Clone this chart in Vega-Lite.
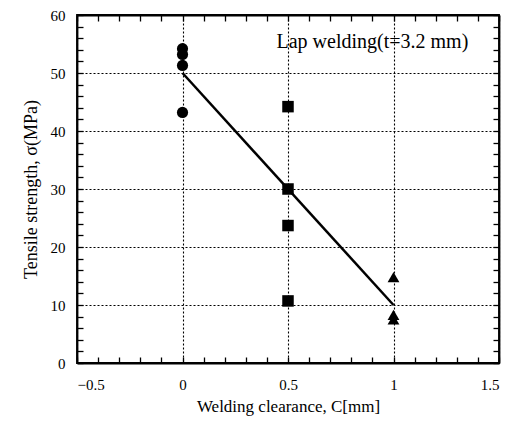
{
  "$schema": "https://vega.github.io/schema/vega-lite/v6.json",
  "width": 422,
  "height": 348,
  "autosize": "none",
  "padding": {"left": 77, "top": 15, "right": 15, "bottom": 58},
  "background": "white",
  "config": {
    "view": {"stroke": "black", "strokeWidth": 1.8},
    "font": "Liberation Serif",
    "axis": {"labelFont": "Liberation Serif", "titleFont": "Liberation Serif", "labelColor": "black", "titleColor": "black", "titleFontWeight": "normal", "labelFontSize": 15, "titleFontSize": 17, "domainColor": "black", "tickColor": "black", "domainWidth": 1.8, "tickWidth": 1.3}
  },
  "datasets": {
    "pts": [
      {"c": 0, "s": 54.2, "g": "c"},
      {"c": 0, "s": 53.2, "g": "c"},
      {"c": 0, "s": 51.3, "g": "c"},
      {"c": 0, "s": 43.2, "g": "c"},
      {"c": 0.5, "s": 44.2, "g": "s"},
      {"c": 0.5, "s": 30.0, "g": "s"},
      {"c": 0.5, "s": 23.7, "g": "s"},
      {"c": 0.5, "s": 10.7, "g": "s"},
      {"c": 1, "s": 14.8, "g": "t"},
      {"c": 1, "s": 8.3, "g": "t"},
      {"c": 1, "s": 7.5, "g": "t"}
    ],
    "fit": [
      {"c": 0, "s": 50},
      {"c": 1, "s": 10}
    ],
    "note": [
      {"c": 0.9, "s": 55.3, "t": "Lap welding(t=3.2 mm)"}
    ]
  },
  "layer": [
    {
      "data": {"name": "pts"},
      "mark": {"type": "point", "filled": true, "color": "black", "opacity": 1},
      "encoding": {
        "x": {"field": "c", "type": "quantitative", "scale": {"domain": [-0.5, 1.5], "nice": false, "zero": false},
          "axis": {"orient": "bottom", "title": "Welding clearance, C[mm]", "values": [-0.5,-0.4,-0.3,-0.2,-0.1,0,0.1,0.2,0.3,0.4,0.5,0.6,0.7,0.8,0.9,1,1.1,1.2,1.3,1.4,1.5],
            "format": ".1~f", "labelExpr": "abs(round(datum.value*10)) % 5 == 0 ? datum.label : ''",
            "ticks": true, "tickSize": -6,
            "labelPadding": 20, "titlePadding": 6,
            "grid": true, "gridColor": "black", "gridDash": [2, 2], "gridWidth": 1.1,
            "gridOpacity": {"condition": {"test": "abs(round(datum.value*10)) % 5 == 0", "value": 1}, "value": 0}}},
        "y": {"field": "s", "type": "quantitative", "scale": {"domain": [0, 60], "nice": false},
          "axis": {"orient": "left", "title": "Tensile strength, σ(MPa)", "titleFontSize": 18, "values": [0,2,4,6,8,10,12,14,16,18,20,22,24,26,28,30,32,34,36,38,40,42,44,46,48,50,52,54,56,58,60],
            "format": "d", "labelExpr": "datum.value % 10 == 0 ? datum.label : ''",
            "ticks": true, "tickSize": -6,
            "labelPadding": 18, "titlePadding": 10,
            "grid": true, "gridColor": "black", "gridDash": [2, 2], "gridWidth": 1.1,
            "gridOpacity": {"condition": {"test": "datum.value % 10 == 0", "value": 1}, "value": 0}}},
        "shape": {"field": "g", "type": "nominal", "scale": {"domain": ["c", "s", "t"], "range": ["circle", "square", "triangle-up"]}, "legend": null},
        "size": {"field": "g", "type": "nominal", "scale": {"domain": ["c", "s", "t"], "range": [125, 140, 70]}, "legend": null}
      }
    },
    {
      "data": {"name": "fit"},
      "mark": {"type": "line", "color": "black", "strokeWidth": 2.5},
      "encoding": {
        "x": {"field": "c", "type": "quantitative",
          "axis": {"orient": "top", "title": null, "values": [-0.5,-0.4,-0.3,-0.2,-0.1,0,0.1,0.2,0.3,0.4,0.5,0.6,0.7,0.8,0.9,1,1.1,1.2,1.3,1.4,1.5], "labelExpr": "''", "grid": false, "ticks": true, "tickSize": -6}},
        "y": {"field": "s", "type": "quantitative",
          "axis": {"orient": "right", "title": null, "values": [0,2,4,6,8,10,12,14,16,18,20,22,24,26,28,30,32,34,36,38,40,42,44,46,48,50,52,54,56,58,60], "labelExpr": "''", "grid": false, "ticks": true, "tickSize": -6}}
      }
    },
    {
      "data": {"name": "note"},
      "mark": {"type": "text", "font": "Liberation Serif", "fontSize": 20, "color": "black"},
      "encoding": {
        "x": {"field": "c", "type": "quantitative", "axis": null},
        "y": {"field": "s", "type": "quantitative", "axis": null},
        "text": {"field": "t"}
      }
    }
  ],
  "resolve": {"axis": {"x": "independent", "y": "independent"}}
}
